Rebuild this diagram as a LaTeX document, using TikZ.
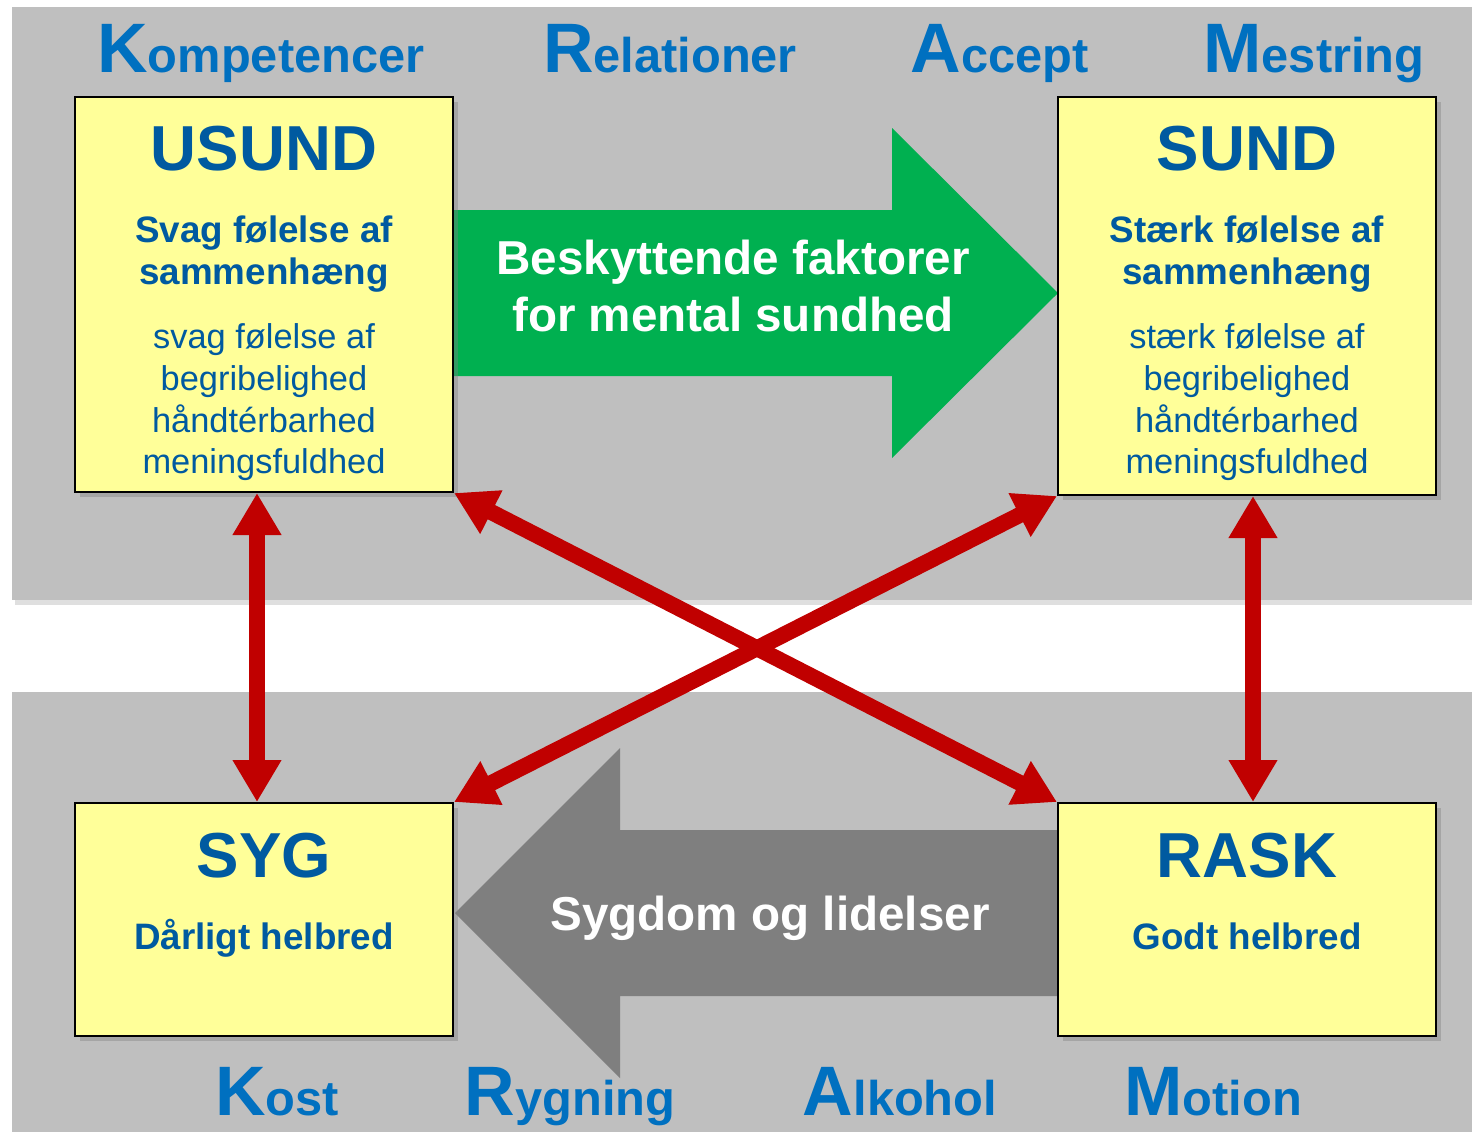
\documentclass[tikz,border=0pt]{standalone}
\usepackage{fontspec}
\setmainfont{Liberation Sans}
\usetikzlibrary{arrows.meta,shadows}
\definecolor{panelgray}{HTML}{BFBFBF}
\definecolor{boxyellow}{HTML}{FFFF99}
\definecolor{arrowgreen}{HTML}{00B050}
\definecolor{arrowgray}{HTML}{7F7F7F}
\definecolor{linkred}{HTML}{C00000}
\definecolor{hdrblue}{HTML}{0070C0}
\definecolor{boxblue}{HTML}{005AA0}
\newcommand\hdrword[2]{{\fontsize{35}{40}\selectfont #1}{\fontsize{24.4}{28}\selectfont #2}}
\begin{document}
\begin{tikzpicture}[x=0.5pt,y=-0.5pt,
  panel/.style={fill=panelgray, drop shadow={shadow xshift=1.5pt, shadow yshift=-2.5pt, opacity=0.25}},
  statebox/.style={draw=black, line width=1pt, fill=boxyellow, inner sep=0pt, minimum width=189pt,
     drop shadow={shadow xshift=2.5pt, shadow yshift=-2.5pt, opacity=0.4}},
  hdr/.style={anchor=base, inner sep=0pt, text=hdrblue, font=\bfseries},
  boxtitle/.style={anchor=base, inner sep=0pt, text=boxblue, font=\bfseries\fontsize{31.8}{36}\selectfont},
  boxsub/.style={anchor=base, inner sep=0pt, text=boxblue, font=\bfseries\fontsize{18.4}{21}\selectfont},
  boxline/.style={anchor=base, inner sep=0pt, text=boxblue, font=\fontsize{17.2}{21}\selectfont},
  arrowtext/.style={anchor=base, inner sep=0pt, text=white, font=\bfseries\fontsize{23.8}{29}\selectfont},
  link/.style={draw=linkred, line width=8pt, {Triangle[length=21pt,width=23pt]}-{Triangle[length=21pt,width=23pt]}}
]
\useasboundingbox (0,0) rectangle (1472,1131);
\fill[white] (0,0) rectangle (1472,1131);
% panels
\fill[panel] (12,7) rectangle (1472,600);
\fill[panel] (12,692) rectangle (1480,1140);

% headers
\node[hdr] (hkomp) at (261,72) {\hdrword{K}{ompetencer}};
\node[hdr] (hrel) at (670,72) {\hdrword{R}{elationer}};
\node[hdr] (hacc) at (1000,72) {\hdrword{A}{ccept}};
\node[hdr] (hmes) at (1314,72) {\hdrword{M}{estring}};
\node[hdr] (hkost) at (277,1115) {\hdrword{K}{ost}};
\node[hdr] (hryg) at (570,1115) {\hdrword{R}{ygning}};
\node[hdr] (halk) at (900,1115) {\hdrword{A}{lkohol}};
\node[hdr] (hmot) at (1213,1115) {\hdrword{M}{otion}};

% green arrow
\fill[arrowgreen] (453,210) -- (892,210) -- (892,128) -- (1058,293) -- (892,458) -- (892,376) -- (453,376) -- cycle;
% gray arrow
\fill[arrowgray] (1058,830) -- (620,830) -- (620,748) -- (455,913) -- (620,1078) -- (620,996) -- (1058,996) -- cycle;

% boxes
\node[statebox, minimum height=197.5pt] (usund) at (264,294.5) {};
\node[statebox, minimum height=199pt] (sund) at (1247,296) {};
\node[statebox, minimum height=116.5pt] (syg) at (264,919.5) {};
\node[statebox, minimum height=116.5pt] (rask) at (1247,919.5) {};

% box texts
\node[boxtitle] (usundT) at (264,170) {USUND};
\node[boxsub] (usundS1) at (264,242) {Svag følelse af};
\node[boxsub] (usundS2) at (264,284) {sammenhæng};
\node[boxline] (usundL1) at (264,348) {svag følelse af};
\node[boxline] (usundL2) at (264,390) {begribelighed};
\node[boxline] (usundL3) at (264,432) {håndtérbarhed};
\node[boxline] (usundL4) at (264,473) {meningsfuldhed};

\node[boxtitle] (sundT) at (1247,170) {SUND};
\node[boxsub] (sundS1) at (1247,242) {Stærk følelse af};
\node[boxsub] (sundS2) at (1247,284) {sammenhæng};
\node[boxline] (sundL1) at (1247,348) {stærk følelse af};
\node[boxline] (sundL2) at (1247,390) {begribelighed};
\node[boxline] (sundL3) at (1247,432) {håndtérbarhed};
\node[boxline] (sundL4) at (1247,473) {meningsfuldhed};

\node[boxtitle] (sygT) at (264,877) {SYG};
\node[boxsub] (sygS) at (264,949) {Dårligt helbred};
\node[boxtitle] (raskT) at (1247,877) {RASK};
\node[boxsub] (raskS) at (1247,949) {Godt helbred};

% arrow texts
\node[arrowtext] (g1) at (733,274) {Beskyttende faktorer};
\node[arrowtext] (g2) at (733,331) {for mental sundhed};
\node[arrowtext] (s1) at (770,930) {Sygdom og lidelser};

% red links
\draw[link] ([xshift=-3.5pt]usund.south) -- ([xshift=-3.5pt]syg.north);
\draw[link] ([xshift=3pt]sund.south) -- ([xshift=3pt]rask.north);
\draw[link] (usund.south east) -- (rask.north west);
\draw[link] (sund.south west) -- (syg.north east);
\end{tikzpicture}
\end{document}
